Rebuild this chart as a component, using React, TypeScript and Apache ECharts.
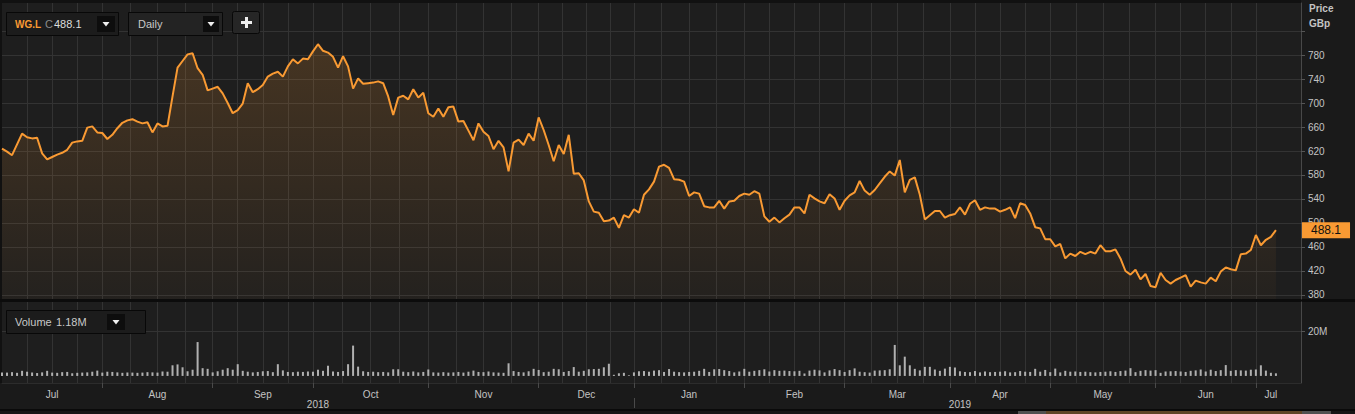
import React, { useEffect, useRef } from "react";
import * as echarts from "echarts";

// ---------- data ----------
const TICKER = "WG.L";
const PERIOD = "Daily";
const START_DATE = "2018-07-04";
const END_DATE = "2019-07-05";
const HOLIDAYS = [
  "2018-08-27", "2018-12-25", "2018-12-26", "2019-01-01",
  "2019-04-19", "2019-04-22", "2019-05-06", "2019-05-27",
];
const MONTH_NAMES = ["Jan", "Feb", "Mar", "Apr", "May", "Jun", "Jul", "Aug", "Sep", "Oct", "Nov", "Dec"];
const PRICE_TICKS = [380, 420, 460, 500, 540, 580, 620, 660, 700, 740, 780, 820];
const PRICE_LABELS = [380, 420, 460, 500, 540, 580, 620, 660, 700, 740, 780];
const VOLUME_TICKS = [20];

// closing price, GBp (one per trading day)
const price = [
  // Jul 2018
  624, 619, 613, 631, 649, 643, 641, 642, 616, 606, 610, 614, 617, 622, 634, 636, 637, 659, 661, 651,
  // Aug
  650, 640, 647, 658, 667, 671, 673, 669, 666, 668, 651, 666, 661, 662, 711, 759, 770, 781, 783, 758, 747, 721,
  // Sep
  724, 727, 716, 700, 683, 688, 699, 733, 718, 723, 730, 744, 749, 752, 744, 761, 773, 766, 774, 773,
  // Oct
  786, 798, 787, 784, 777, 759, 778, 761, 724, 741, 732, 733, 734, 736, 733, 711, 680, 709, 712, 706, 723, 709, 717,
  // Nov
  683, 677, 691, 677, 693, 694, 669, 670, 654, 638, 666, 652, 645, 623, 637, 626, 586, 634, 639, 630, 649, 637,
  // Dec
  676, 655, 630, 603, 630, 615, 647, 582, 583, 571, 536, 519, 517, 503, 504, 509, 492, 513, 509,
  // Jan 2019
  523, 517, 547, 556, 569, 594, 597, 592, 573, 572, 569, 545, 551, 549, 528, 526, 526, 537, 524, 536, 537, 545,
  // Feb
  549, 547, 553, 549, 511, 502, 509, 501, 508, 514, 526, 526, 516, 547, 541, 536, 533, 548, 541, 522,
  // Mar
  537, 546, 551, 570, 554, 547, 555, 566, 577, 586, 579, 605, 551, 572, 576, 547, 506, 513, 520, 520, 509,
  // Apr
  513, 515, 526, 514, 532, 538, 522, 526, 524, 524, 519, 522, 526, 508, 533, 530, 516, 493, 491, 473,
  // May
  473, 461, 465, 441, 449, 445, 452, 448, 452, 449, 463, 453, 453, 456, 441, 420, 414, 422, 406, 415, 395,
  // Jun
  393, 417, 405, 399, 405, 409, 413, 394, 404, 401, 399, 409, 403, 419, 426, 423, 421, 448, 449, 455,
  // Jul
  480, 463, 472, 477, 488.1,
];

// volume, millions of shares
const volume = [
  1.6, 1.5, 1.7, 1.4, 2.3, 1.9, 1.5, 1.3, 1.6, 2.3, 1.5, 1.4, 1.7, 1.8, 1.2, 1.4, 1.5, 1.6, 1.9, 2.4,
  1.5, 1.9, 1.8, 1.6, 1.4, 1.6, 1.5, 1.4, 1.5, 1.7, 1.6, 1.5, 2.0, 1.9, 4.8, 5.2, 3.9, 2.1, 2.8, 15.3, 3.5, 3.2,
  1.6, 2.1, 2.8, 3.5, 2.8, 5.3, 2.3, 1.9, 1.6, 1.8, 2.1, 2.2, 1.7, 5.3, 2.5, 1.8, 1.7, 1.9, 1.8, 2.0,
  1.9, 2.8, 2.3, 4.6, 2.0, 1.8, 2.2, 5.3, 13.7, 4.2, 2.1, 1.8, 1.9, 1.7, 1.8, 1.6, 3.0, 3.0, 1.9, 1.7, 2.0, 1.6, 1.8,
  2.9, 1.6, 1.5, 1.7, 1.5, 1.6, 1.8, 1.5, 1.9, 2.4, 1.8, 1.7, 2.0, 1.6, 1.5, 1.4, 5.7, 2.2, 1.8, 1.6, 2.1, 3.2,
  2.7, 1.7, 1.9, 3.2, 3.0, 1.8, 2.2, 4.0, 1.9, 2.3, 3.0, 3.1, 3.2, 3.9, 5.5, 0.5, 1.2, 1.4, 0.3,
  1.6, 2.1, 2.2, 1.9, 2.4, 2.6, 1.8, 3.1, 1.9, 1.7, 1.6, 1.8, 1.9, 2.3, 3.2, 1.8, 3.0, 3.1, 2.6, 2.2, 1.6, 2.0,
  3.2, 1.9, 2.3, 2.6, 3.0, 2.0, 2.6, 2.3, 2.4, 2.2, 2.1, 2.3, 1.1, 2.4, 2.8, 2.5, 1.6, 2.5, 3.1, 2.6,
  1.8, 2.6, 3.4, 1.9, 1.7, 1.5, 2.4, 2.5, 2.6, 3.0, 14.0, 4.8, 8.7, 4.8, 3.2, 2.5, 4.1, 4.1, 2.9, 2.3, 3.3,
  4.1, 3.8, 2.1, 1.8, 1.7, 2.2, 1.6, 2.0, 1.7, 1.8, 1.9, 2.1, 1.6, 1.7, 2.2, 1.9, 1.8, 3.2, 1.9, 2.7,
  1.7, 3.3, 1.6, 2.3, 1.9, 2.0, 1.8, 1.9, 1.7, 1.6, 1.8, 1.9, 2.1, 1.8, 2.2, 2.4, 3.5, 1.7, 2.3, 2.6, 2.4,
  2.6, 1.4, 2.0, 2.1, 2.2, 2.0, 1.8, 2.3, 2.5, 2.9, 2.0, 2.8, 2.2, 2.6, 4.9, 2.3, 2.6, 2.5, 2.4, 2.8,
  2.9, 4.8, 2.4, 1.4, 1.18,
];

// ---------- helpers ----------
function buildTradingDays(): string[] {
  const out: string[] = [];
  const d = new Date(START_DATE + "T00:00:00Z");
  const end = new Date(END_DATE + "T00:00:00Z");
  while (d.getTime() <= end.getTime()) {
    const wd = d.getUTCDay();
    const iso = d.toISOString().slice(0, 10);
    if (wd !== 0 && wd !== 6 && HOLIDAYS.indexOf(iso) < 0) out.push(iso);
    d.setUTCDate(d.getUTCDate() + 1);
  }
  return out;
}

const ORANGE = "#f99a33";
const GRID_LINE = "#333333";
const PANEL_BG = "#1e1e1e";
const TEXT = "#c4c4c4";
const FONT = "Liberation Sans";

function tri(cx: number, cy: number) {
  return {
    type: "polygon",
    z: 101,
    shape: { points: [[cx - 3.5, cy - 2], [cx + 3.5, cy - 2], [cx, cy + 2.5]] },
    style: { fill: "#eeeeee" },
  };
}

function txt(x: number, y: number, text: string, fill: string, size: number, weight = "normal") {
  return {
    type: "text",
    z: 101,
    x,
    y,
    style: {
      text,
      fill,
      fontSize: size,
      fontWeight: weight,
      fontFamily: FONT,
      align: "left",
      verticalAlign: "middle",
      textAlign: "left",
      textVerticalAlign: "middle",
    },
  };
}

export default function App() {
  const ref = useRef<HTMLDivElement>(null);

  useEffect(() => {
    if (!ref.current) return;
    const chart = echarts.init(ref.current, undefined, { renderer: "svg" });

    const days = buildTradingDays();
    const n = days.length;
    const xMax = n - 1 + 5;

    const starts: { idx: number; y: number; m: number }[] = [];
    days.forEach((iso, i) => {
      const y = +iso.slice(0, 4);
      const m = +iso.slice(5, 7) - 1;
      if (i === 0 || starts[starts.length - 1].m !== m) starts.push({ idx: i, y, m });
    });

    const gridVals: number[] = [];
    const monthMids: { v: number; label: string }[] = [];
    const monthTicks: number[] = [];
    starts.forEach((s, k) => {
      const next = k < starts.length - 1 ? starts[k + 1].idx : null;
      if (s.idx > 0) {
        gridVals.push(s.idx);
        monthTicks.push(s.idx);
      }
      if (next !== null) {
        const d = (next - s.idx) / 4;
        gridVals.push(s.idx + d, s.idx + 2 * d, s.idx + 3 * d);
      }
      const e = next !== null ? next : n + 1;
      monthMids.push({ v: (s.idx + e) / 2, label: MONTH_NAMES[s.m] });
    });

    const yearStarts: { idx: number; y: number }[] = [];
    starts.forEach((s) => {
      if (!yearStarts.length || yearStarts[yearStarts.length - 1].y !== s.y) yearStarts.push({ idx: s.idx, y: s.y });
    });
    const yearMids: { v: number; label: string }[] = yearStarts.map((s, k) => {
      const e = k < yearStarts.length - 1 ? yearStarts[k + 1].idx : n + 1;
      return { v: (s.idx + e) / 2, label: String(s.y) };
    });
    const yearTicks = yearStarts.filter((s) => s.idx > 0).map((s) => s.idx);

    const lookup = (arr: { v: number; label: string }[]) => (val: number) => {
      const f = arr.find((a) => Math.abs(a.v - val) < 1e-6);
      return f ? f.label : "";
    };

    const priceData = price.map((v, i) => [i, v]);
    const volData = volume.map((v, i) => [i, v]);
    const last = price[price.length - 1];
    const lastVol = volume[volume.length - 1];

    const baseX = {
      type: "value",
      min: 0,
      max: xMax,
      axisLine: { show: false, onZero: false },
      axisTick: { show: false },
      axisLabel: { show: false },
      splitLine: { show: false },
    };

    const option: any = {
      animation: false,
      backgroundColor: "#111111",
      textStyle: { fontFamily: FONT },
      grid: [
        { left: 2, top: 3, width: 1299, height: 296, show: true, backgroundColor: PANEL_BG, borderWidth: 0 },
        { left: 2, top: 302, width: 1299, height: 81, show: true, backgroundColor: PANEL_BG, borderWidth: 0 },
      ],
      xAxis: [
        {
          ...baseX,
          gridIndex: 0,
          position: "bottom",
          axisTick: { show: false, customValues: gridVals },
          splitLine: { show: true, lineStyle: { color: GRID_LINE, width: 1 } },
        },
        {
          ...baseX,
          gridIndex: 1,
          position: "bottom",
          axisLine: { show: true, onZero: false, lineStyle: { color: "#2c2c2c" } },
          axisTick: { show: false, customValues: gridVals },
          axisLabel: {
            show: true,
            customValues: monthMids.map((m) => m.v),
            formatter: lookup(monthMids),
            color: TEXT,
            fontSize: 10,
            margin: 6,
          },
          splitLine: { show: true, lineStyle: { color: GRID_LINE, width: 1 } },
        },
        {
          ...baseX,
          gridIndex: 1,
          position: "bottom",
          axisTick: { show: true, customValues: monthTicks, length: 5, lineStyle: { color: "#4a4a4a" } },
        },
        {
          ...baseX,
          gridIndex: 1,
          position: "bottom",
          offset: 15,
          axisTick: { show: true, customValues: yearTicks, length: 10, lineStyle: { color: "#4a4a4a" } },
          axisLabel: {
            show: true,
            customValues: yearMids.map((m) => m.v),
            formatter: lookup(yearMids),
            color: TEXT,
            fontSize: 10,
            margin: 1,
          },
        },
      ],
      yAxis: [
        {
          type: "value",
          gridIndex: 0,
          position: "right",
          min: 373.33,
          max: 866.67,
          axisLine: { show: true, onZero: false, lineStyle: { color: "#484848" } },
          axisTick: { show: true, customValues: PRICE_TICKS, length: 4, lineStyle: { color: "#555555" } },
          axisLabel: { show: true, customValues: PRICE_LABELS, color: TEXT, fontSize: 10, margin: 7 },
          splitLine: { show: true, lineStyle: { color: GRID_LINE, width: 1 } },
          axisPointer: {
            show: true,
            type: "line",
            value: last,
            status: "show",
            snap: false,
            triggerTooltip: false,
            lineStyle: { opacity: 0 },
            label: {
              show: true,
              formatter: () => last.toFixed(1),
              backgroundColor: ORANGE,
              color: "#111111",
              fontSize: 12,
              fontFamily: FONT,
              padding: [2, 9, 2, 9],
              margin: 1,
              borderRadius: 0,
              shadowBlur: 0,
            },
          },
        },
        {
          type: "value",
          gridIndex: 1,
          position: "right",
          min: -3.2,
          max: 33.4,
          axisLine: { show: true, onZero: false, lineStyle: { color: "#484848" } },
          axisTick: { show: true, customValues: VOLUME_TICKS, length: 4, lineStyle: { color: "#555555" } },
          axisLabel: {
            show: true,
            customValues: VOLUME_TICKS,
            formatter: (v: number) => `${v}M`,
            color: TEXT,
            fontSize: 10,
            margin: 7,
          },
          splitLine: { show: true, lineStyle: { color: GRID_LINE, width: 1 } },
        },
      ],
      series: [
        {
          type: "line",
          xAxisIndex: 0,
          yAxisIndex: 0,
          data: priceData,
          symbol: "none",
          lineStyle: { color: ORANGE, width: 2 },
          itemStyle: { color: ORANGE },
          areaStyle: {
            color: new echarts.graphic.LinearGradient(0, 0, 0, 1, [
              { offset: 0, color: "rgba(249,154,51,0.26)" },
              { offset: 1, color: "rgba(249,154,51,0.04)" },
            ]),
          },
          z: 3,
        },
        {
          type: "bar",
          xAxisIndex: 1,
          yAxisIndex: 1,
          data: volData,
          barWidth: 2,
          itemStyle: { color: "#b0b0b0" },
        },
      ],
      graphic: [
        // background strips
        { type: "rect", z: -1, shape: { x: 1301, y: 0, width: 54, height: 410 }, style: { fill: "#1a1a1a" } },
        { type: "rect", z: -1, shape: { x: 0, y: 383, width: 1301, height: 27 }, style: { fill: "#1a1a1a" } },
        { type: "rect", z: -1, shape: { x: 0, y: 299, width: 1355, height: 3 }, style: { fill: "#0c0c0c" } },
        { type: "rect", z: -1, shape: { x: 0, y: 409, width: 1355, height: 5 }, style: { fill: "#151515" } },
        { type: "rect", z: -1, shape: { x: 0, y: 409, width: 1355, height: 2 }, style: { fill: "#0a0a0a" } },
        { type: "rect", z: -1, shape: { x: 1018, y: 411, width: 28, height: 3 }, style: { fill: "#505050" } },
        { type: "rect", z: -1, shape: { x: 1046, y: 411, width: 256, height: 3 }, style: { fill: "#5e4426" } },
        { type: "rect", z: -1, shape: { x: 1302, y: 411, width: 29, height: 3 }, style: { fill: "#505050" } },
        // axis header
        txt(1309, 8, "Price", TEXT, 10, "bold"),
        txt(1309, 23, "GBp", TEXT, 10, "bold"),
        // ticker box
        { type: "rect", z: 100, shape: { x: 6.5, y: 12.5, width: 112, height: 23 }, style: { fill: "#1c1c1c", stroke: "#080808", lineWidth: 1 } },
        txt(15, 24, TICKER, ORANGE, 10, "bold"),
        txt(45, 24, "C", "#8a8a8a", 11),
        txt(54, 24, last.toFixed(1), "#dddddd", 11),
        { type: "rect", z: 100, shape: { x: 97, y: 16, width: 18, height: 16 }, style: { fill: "#0d0d0d" } },
        tri(106, 24),
        // period box
        { type: "rect", z: 100, shape: { x: 128.5, y: 12.5, width: 94, height: 23 }, style: { fill: "#232323", stroke: "#080808", lineWidth: 1 } },
        txt(138, 24, PERIOD, "#c8c8c8", 11),
        { type: "rect", z: 100, shape: { x: 203, y: 16, width: 16, height: 16 }, style: { fill: "#0d0d0d" } },
        tri(211, 24),
        // plus button
        { type: "rect", z: 100, shape: { x: 232.5, y: 11.5, width: 27, height: 22, r: 2 }, style: { fill: "#262626", stroke: "#080808", lineWidth: 1 } },
        { type: "rect", z: 101, shape: { x: 241, y: 21, width: 11, height: 3 }, style: { fill: "#eeeeee" } },
        { type: "rect", z: 101, shape: { x: 245, y: 17, width: 3, height: 11 }, style: { fill: "#eeeeee" } },
        // volume box
        { type: "rect", z: 100, shape: { x: 6.5, y: 310.5, width: 139, height: 23 }, style: { fill: "#1c1c1c", stroke: "#080808", lineWidth: 1 } },
        txt(15, 322, "Volume", "#c8c8c8", 11),
        txt(56, 322, `${lastVol.toFixed(2)}M`, "#c8c8c8", 11),
        { type: "rect", z: 100, shape: { x: 107, y: 314, width: 18, height: 16 }, style: { fill: "#0d0d0d" } },
        tri(116, 322),
      ],
    };

    chart.setOption(option);
    return () => chart.dispose();
  }, []);

  return (
    <div
      ref={ref}
      style={{ position: "absolute", left: 0, top: 0, width: 1355, height: 414 }}
    />
  );
}
